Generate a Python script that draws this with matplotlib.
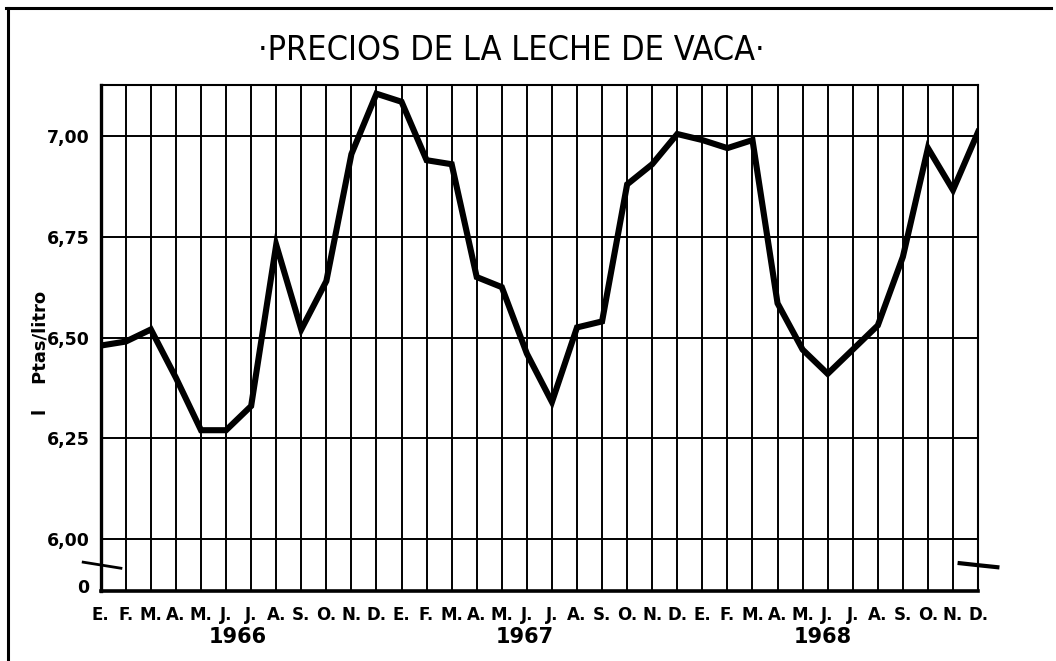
import matplotlib
matplotlib.use("Agg")
import matplotlib.pyplot as plt
from matplotlib.lines import Line2D

# meses E. 1966 .. D. 1968
months = ["E.", "F.", "M.", "A.", "M.", "J.", "J.", "A.", "S.", "O.", "N.", "D."] * 3
years = ["1966", "1967", "1968"]
year_pos = [5.45, 16.9, 28.8]

# precio (ptas/litro)
precio = [6.48, 6.49, 6.52, 6.40, 6.27, 6.27, 6.33, 6.73, 6.52, 6.64, 6.955, 7.105,
          7.085, 6.94, 6.93, 6.65, 6.625, 6.46, 6.34, 6.525, 6.54, 6.88, 6.93, 7.005,
          6.99, 6.97, 6.99, 6.585, 6.47, 6.41, 6.47, 6.53, 6.70, 6.97, 6.866, 7.01]

yticks = [6.00, 6.25, 6.50, 6.75, 7.00]
ytick_labels = ["6,00", "6,25", "6,50", "6,75", "7,00"]
ybottom = 5.871

fig = plt.figure(figsize=(10.56, 6.61), dpi=100)
ax = fig.add_axes([0.0954, 0.1059, 0.8308, 0.7655])

x = list(range(len(precio)))
ax.plot(x, precio, color="black", lw=4.4, solid_joinstyle="miter", zorder=5)

# rejilla
for i in x:
    ax.axvline(i, color="black", lw=1.4, zorder=2)
for v in yticks:
    ax.axhline(v, color="black", lw=1.4, zorder=2)

ax.set_xlim(0, len(precio) - 1)
ax.set_ylim(ybottom, 7.1266)

for s in ax.spines.values():
    s.set_linewidth(1.5)
ax.spines["left"].set_linewidth(2.4)
ax.spines["bottom"].set_linewidth(2.6)

ax.set_yticks(yticks + [5.884])
ax.set_yticklabels(ytick_labels + ["0"], fontsize=12.5, fontweight="heavy")
ax.set_xticks(x)
ax.set_xticklabels(months, fontsize=12, fontweight="heavy")
ax.tick_params(axis="y", length=0, pad=8)
ax.tick_params(axis="x", length=0, pad=11)

for lab, p in zip(years, year_pos):
    ax.text(p, -0.09, lab, transform=ax.get_xaxis_transform(), ha="center", va="center",
            fontsize=15, fontweight="bold")

# cortes del eje
ax.plot([-0.020, 0.023], [0.057, 0.045], transform=ax.transAxes, color="black",
        lw=2.0, clip_on=False, zorder=6)
ax.plot([0.979, 1.0, 1.022], [0.055, 0.051, 0.047], transform=ax.transAxes, color="black",
        lw=3.0, clip_on=False, zorder=6)

ax.set_ylabel("l    Ptas/litro", fontsize=13, fontweight="bold")
ax.yaxis.set_label_coords(-0.058, 0.47)

fig.text(0.484, 0.923, "·PRECIOS DE LA LECHE DE VACA·", ha="center", va="center",
         fontsize=24.5, fontstretch="condensed")

# marco exterior
fig.add_artist(Line2D([0.006, 0.995], [0.988, 0.988], color="black", lw=2.2))
fig.add_artist(Line2D([0.008, 0.008], [0.0, 0.988], color="black", lw=2.2))

fig.savefig("out.png", dpi=100)
